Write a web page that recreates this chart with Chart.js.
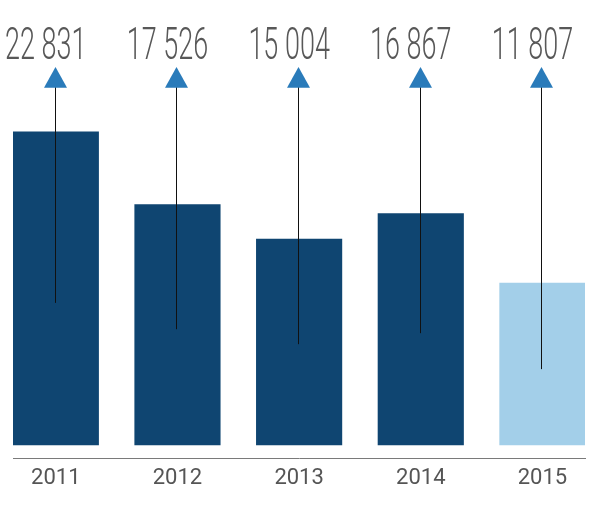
<!DOCTYPE html>
<html>
<head>
<meta charset="utf-8">
<script src="https://cdn.jsdelivr.net/npm/chart.js@4/dist/chart.umd.min.js"></script>
<style>
  html, body { margin: 0; padding: 0; background: #fff; }
  #wrap { width: 599px; height: 510px; }
</style>
</head>
<body>
<div id="wrap"><canvas id="chart"></canvas></div>
<script>
/* ========================================
   DADOS
   ======================================== */
const years = ['2011', '2012', '2013', '2014', '2015'];
const values = [22831, 17526, 15004, 16867, 11807];
// base das setas (valor onde termina a linha vertical)
const arrowBase = [10360, 8440, 7350, 8150, 5530];
const barColors = ['#0f4571', '#0f4571', '#0f4571', '#0f4571', '#a3cfe9'];

/* ========================================
   PLUGIN - SETAS E RÓTULOS
   ======================================== */
const arrowPlugin = {
  id: 'arrows',
  afterDatasetsDraw(chart) {
    const ctx = chart.ctx;
    const top = chart.chartArea.top;
    const yScale = chart.scales.y;
    const bars = chart.getDatasetMeta(0).data;

    bars.forEach((bar, i) => {
      const x = Math.round(bar.x - 1) + 0.5;

      // linha vertical
      ctx.save();
      ctx.strokeStyle = '#111';
      ctx.lineWidth = 1;
      ctx.beginPath();
      ctx.moveTo(x, top + 20);
      ctx.lineTo(x, yScale.getPixelForValue(arrowBase[i]));
      ctx.stroke();

      // triângulo
      ctx.fillStyle = '#2a7bba';
      ctx.beginPath();
      ctx.moveTo(x, top);
      ctx.lineTo(x + 11.5, top + 20.7);
      ctx.lineTo(x - 11.5, top + 20.7);
      ctx.closePath();
      ctx.fill();

      // valor (fonte condensada)
      const txt = values[i].toLocaleString('fr-FR').replace(/\s/g, ' ');
      ctx.translate(bar.x - 10, top - 8);
      ctx.scale(0.6, 1);
      ctx.font = '300 45px Roboto, "DejaVu Sans"';
      ctx.fillStyle = '#585858';
      ctx.textAlign = 'center';
      ctx.textBaseline = 'alphabetic';
      ctx.fillText(txt, 0, 0);
      ctx.restore();
    });
  }
};

/* ========================================
   GRÁFICO
   ======================================== */
function buildChart() {
  const canvas = document.getElementById('chart');

  new Chart(canvas, {
    type: 'bar',
    data: {
      datasets: [
        {
          data: values.map((v, i) => ({ x: i, y: v })),
          backgroundColor: barColors,
          barThickness: 85.5,
          borderWidth: 0
        }
      ]
    },
    options: {
      responsive: true,
      maintainAspectRatio: false,
      animation: false,
      layout: {
        padding: { top: 67, left: 13, right: 14, bottom: 11 }
      },
      plugins: {
        legend: { display: false },
        tooltip: { enabled: false }
      },
      scales: {
        x: {
          type: 'linear',
          offset: false,
          min: -0.352,
          max: 4.35,
          grid: { display: false, drawTicks: false },
          border: { display: true, color: '#7a7a7a', width: 1 },
          ticks: {
            stepSize: 1,
            includeBounds: false,
            padding: 7,
            color: '#555',
            font: { family: 'Roboto', size: 22 },
            maxRotation: 0,
            autoSkip: false,
            callback: function(v) {
              return Number.isInteger(v) && years[v] ? years[v] : '';
            }
          }
        },
        y: {
          display: false,
          min: -990,
          max: 27550
        }
      }
    },
    plugins: [arrowPlugin]
  });
}

buildChart();
</script>
</body>
</html>
